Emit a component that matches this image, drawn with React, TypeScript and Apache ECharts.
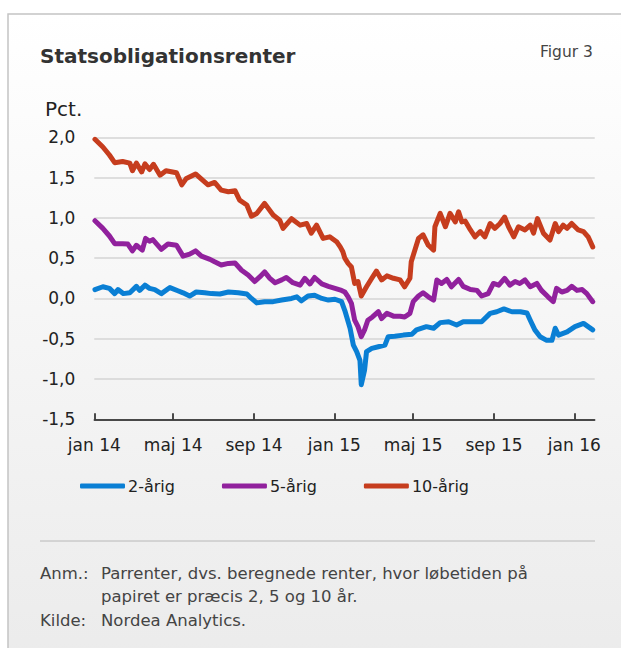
import React, { useEffect, useRef } from "react";
import * as echarts from "echarts";

const seriesNames = ["2-årig", "5-årig", "10-årig"];
const seriesColors = ["#0a7fd4", "#91219d", "#c63d1e"];

const tickDates = ["2014-01-01", "2014-05-01", "2014-09-01", "2015-01-01", "2015-05-01", "2015-09-01", "2016-01-01"];
const monthNames = ["jan", "feb", "mar", "apr", "maj", "jun", "jul", "aug", "sep", "okt", "nov", "dec"];

const dates2 = [
  "2014-01-02", "2014-01-14", "2014-01-24", "2014-02-01", "2014-02-06", "2014-02-14", "2014-02-24", "2014-03-06",
  "2014-03-11", "2014-03-19", "2014-03-26", "2014-04-03", "2014-04-13", "2014-04-26", "2014-05-08", "2014-05-16",
  "2014-05-26", "2014-06-05", "2014-06-18", "2014-06-28", "2014-07-11", "2014-07-24", "2014-08-08", "2014-08-21",
  "2014-08-28", "2014-09-05", "2014-09-17", "2014-09-30", "2014-10-13", "2014-10-28", "2014-11-05", "2014-11-12",
  "2014-11-22", "2014-12-02", "2014-12-13", "2014-12-23", "2015-01-02", "2015-01-12", "2015-01-17", "2015-01-25",
  "2015-01-30", "2015-02-04", "2015-02-09", "2015-02-11", "2015-02-16", "2015-02-19", "2015-02-27", "2015-03-09",
  "2015-03-19", "2015-03-24", "2015-04-03", "2015-04-16", "2015-04-29", "2015-05-06", "2015-05-21", "2015-06-01",
  "2015-06-11", "2015-06-24", "2015-07-06", "2015-07-16", "2015-08-01", "2015-08-13", "2015-08-26", "2015-09-05",
  "2015-09-16", "2015-09-28", "2015-10-11", "2015-10-21", "2015-10-26", "2015-11-02", "2015-11-10", "2015-11-20",
  "2015-11-28", "2015-12-03", "2015-12-08", "2015-12-21", "2016-01-02", "2016-01-15", "2016-01-22", "2016-01-29",
];
const values2 = [
  0.11, 0.145, 0.125, 0.06, 0.11, 0.06, 0.07, 0.15,
  0.10, 0.165, 0.125, 0.11, 0.06, 0.135, 0.095, 0.07,
  0.03, 0.08, 0.07, 0.06, 0.055, 0.08, 0.07, 0.055,
  0.0, -0.055, -0.04, -0.04, -0.02, 0.0, 0.02, -0.03,
  0.03, 0.04, 0.0, -0.02, -0.01, -0.04, -0.15, -0.37,
  -0.58, -0.66, -0.77, -1.07, -0.89, -0.66, -0.62, -0.60,
  -0.58, -0.475, -0.47, -0.455, -0.445, -0.39, -0.35, -0.37,
  -0.30, -0.29, -0.33, -0.29, -0.29, -0.29, -0.185, -0.165,
  -0.13, -0.165, -0.165, -0.18, -0.27, -0.39, -0.475, -0.52,
  -0.52, -0.37, -0.455, -0.415, -0.35, -0.31, -0.35, -0.39,
];

const dates5 = [
  "2014-01-02", "2014-01-14", "2014-01-24", "2014-02-01", "2014-02-13", "2014-02-21", "2014-02-28", "2014-03-06",
  "2014-03-15", "2014-03-20", "2014-03-26", "2014-03-31", "2014-04-13", "2014-04-23", "2014-05-06", "2014-05-16",
  "2014-05-26", "2014-06-04", "2014-06-13", "2014-06-26", "2014-07-03", "2014-07-13", "2014-07-24", "2014-08-03",
  "2014-08-13", "2014-08-23", "2014-09-02", "2014-09-10", "2014-09-17", "2014-09-25", "2014-10-03", "2014-10-13",
  "2014-10-20", "2014-10-30", "2014-11-10", "2014-11-17", "2014-11-25", "2014-12-02", "2014-12-13", "2014-12-23",
  "2015-01-02", "2015-01-12", "2015-01-17", "2015-01-22", "2015-01-27", "2015-02-01", "2015-02-06", "2015-02-11",
  "2015-02-16", "2015-02-21", "2015-02-28", "2015-03-09", "2015-03-14", "2015-03-22", "2015-04-01", "2015-04-11",
  "2015-04-18", "2015-04-26", "2015-05-01", "2015-05-09", "2015-05-16", "2015-05-24", "2015-06-01", "2015-06-06",
  "2015-06-13", "2015-06-21", "2015-06-28", "2015-07-09", "2015-07-16", "2015-07-27", "2015-08-06", "2015-08-13",
  "2015-08-23", "2015-08-31", "2015-09-08", "2015-09-17", "2015-09-25", "2015-10-03", "2015-10-10", "2015-10-18",
  "2015-10-26", "2015-11-05", "2015-11-12", "2015-11-22", "2015-11-30", "2015-12-05", "2015-12-13", "2015-12-21",
  "2015-12-28", "2016-01-05", "2016-01-13", "2016-01-20", "2016-01-29",
];
const values5 = [
  0.965, 0.87, 0.775, 0.68, 0.68, 0.675, 0.59, 0.66,
  0.60, 0.745, 0.71, 0.73, 0.61, 0.675, 0.66, 0.525,
  0.55, 0.59, 0.525, 0.485, 0.455, 0.415, 0.435, 0.44,
  0.35, 0.29, 0.21, 0.27, 0.33, 0.25, 0.195, 0.23,
  0.26, 0.195, 0.165, 0.25, 0.18, 0.26, 0.18, 0.15,
  0.125, 0.10, 0.08, 0.02, -0.06, -0.27, -0.35, -0.475,
  -0.39, -0.27, -0.23, -0.165, -0.25, -0.185, -0.22, -0.22,
  -0.23, -0.185, -0.04, 0.03, 0.07, 0.02, -0.02, 0.23,
  0.186, 0.236, 0.145, 0.236, 0.15, 0.11, 0.10, 0.03,
  0.06, 0.186, 0.165, 0.25, 0.165, 0.21, 0.186, 0.23,
  0.145, 0.186, 0.10, 0.02, -0.04, 0.125, 0.08, 0.10,
  0.15, 0.10, 0.11, 0.06, -0.04,
];

const dates10 = [
  "2014-01-02", "2014-01-14", "2014-01-24", "2014-02-01", "2014-02-13", "2014-02-24", "2014-02-28", "2014-03-06",
  "2014-03-14", "2014-03-19", "2014-03-26", "2014-04-01", "2014-04-11", "2014-04-20", "2014-05-06", "2014-05-14",
  "2014-05-21", "2014-06-04", "2014-06-13", "2014-06-23", "2014-07-03", "2014-07-13", "2014-07-24", "2014-08-03",
  "2014-08-10", "2014-08-21", "2014-08-28", "2014-09-05", "2014-09-17", "2014-09-30", "2014-10-10", "2014-10-15",
  "2014-10-28", "2014-11-10", "2014-11-20", "2014-11-27", "2014-12-05", "2014-12-15", "2014-12-25", "2015-01-05",
  "2015-01-10", "2015-01-14", "2015-01-17", "2015-01-22", "2015-01-27", "2015-02-01", "2015-02-06", "2015-02-11",
  "2015-02-19", "2015-02-27", "2015-03-06", "2015-03-14", "2015-03-22", "2015-04-01", "2015-04-11", "2015-04-18",
  "2015-04-26", "2015-04-28", "2015-05-09", "2015-05-16", "2015-05-24", "2015-06-01", "2015-06-03", "2015-06-11",
  "2015-06-19", "2015-06-26", "2015-07-04", "2015-07-09", "2015-07-14", "2015-07-19", "2015-07-27", "2015-08-03",
  "2015-08-11", "2015-08-18", "2015-08-26", "2015-09-02", "2015-09-10", "2015-09-17", "2015-09-23", "2015-10-01",
  "2015-10-08", "2015-10-18", "2015-10-26", "2015-10-31", "2015-11-06", "2015-11-15", "2015-11-25", "2015-12-03",
  "2015-12-08", "2015-12-15", "2015-12-21", "2015-12-28", "2016-01-07", "2016-01-15", "2016-01-22", "2016-01-29",
];
const values10 = [
  1.975, 1.88, 1.78, 1.685, 1.70, 1.68, 1.585, 1.68,
  1.57, 1.67, 1.60, 1.665, 1.53, 1.585, 1.56, 1.41,
  1.49, 1.545, 1.48, 1.41, 1.44, 1.345, 1.325, 1.337,
  1.22, 1.16, 1.02, 1.055, 1.18, 1.035, 0.97, 0.87,
  0.99, 0.91, 0.93, 0.81, 0.91, 0.745, 0.765, 0.70,
  0.64, 0.58, 0.50, 0.435, 0.39, 0.186, 0.21, 0.03,
  0.145, 0.25, 0.34, 0.23, 0.28, 0.25, 0.23, 0.145,
  0.25, 0.455, 0.745, 0.79, 0.66, 0.60, 0.89, 1.055,
  0.89, 1.055, 0.95, 1.075, 0.95, 0.96, 0.85, 0.765,
  0.83, 0.765, 0.93, 0.87, 0.93, 1.01, 0.89, 0.765,
  0.89, 0.85, 0.91, 0.81, 0.99, 0.81, 0.725, 0.93,
  0.83, 0.91, 0.87, 0.93, 0.85, 0.83, 0.765, 0.64,
];

const yTicks = { min: -1.5, max: 2.0, interval: 0.5 };
const FONT = "'DejaVu Sans', sans-serif";

function toTime(s: string) {
  const [y, m, d] = s.split("-").map(Number);
  return Date.UTC(y, m - 1, d);
}
function pairs(dates: string[], values: number[]) {
  return dates.map((d, i) => [toTime(d), values[i]]);
}

function label(text: string, x: number, y: number, font: string, fill: string) {
  return { type: "text", x, y, silent: true, style: { text, font, fill, verticalAlign: "middle", align: "left" } };
}

export default function App() {
  const ref = useRef<HTMLDivElement>(null);
  useEffect(() => {
    if (!ref.current) return;
    const chart = echarts.init(ref.current, null, { renderer: "svg" });
    const ticks = tickDates.map(toTime);
    const allData = [pairs(dates2, values2), pairs(dates5, values5), pairs(dates10, values10)];
    const foot = `16.5px ${FONT}`;
    chart.setOption({
      animation: false,
      backgroundColor: "#ffffff",
      graphic: [
        {
          type: "rect",
          silent: true,
          z: -10,
          shape: { x: 8, y: 14, width: 640, height: 660 },
          style: {
            fill: new echarts.graphic.LinearGradient(0, 0, 0, 1, [
              { offset: 0, color: "#ffffff" },
              { offset: 1, color: "#ebebeb" },
            ]),
            stroke: "#c4c4c4",
            lineWidth: 1.5,
          },
        },
        label("Statsobligationsrenter", 40, 56, `bold 20px ${FONT}`, "#333333"),
        label("Figur 3", 540, 52, `15.5px ${FONT}`, "#444444"),
        label("Pct.", 45, 109, `20px ${FONT}`, "#222222"),
        {
          type: "line",
          silent: true,
          shape: { x1: 40, y1: 541, x2: 595, y2: 541 },
          style: { stroke: "#b8b8b8", lineWidth: 1 },
        },
        label("Anm.:", 40, 573, foot, "#444444"),
        label("Parrenter, dvs. beregnede renter, hvor løbetiden på", 101, 573, foot, "#444444"),
        label("papiret er præcis 2, 5 og 10 år.", 101, 596, foot, "#444444"),
        label("Kilde:", 40, 620, foot, "#444444"),
        label("Nordea Analytics.", 101, 620, foot, "#444444"),
      ],
      legend: {
        left: 80,
        top: 478,
        padding: 0,
        itemWidth: 45,
        itemHeight: 5,
        itemGap: 47,
        icon: "roundRect",
        textStyle: { fontFamily: FONT, fontSize: 16, color: "#222222", padding: [0, 0, 0, -2] },
        data: seriesNames,
      },
      grid: { left: 94.3, right: 26.3, top: 137.3, bottom: 228.7, containLabel: false },
      xAxis: {
        type: "value",
        min: toTime("2014-01-01"),
        max: toTime("2016-02-01"),
        axisLine: { onZero: false, lineStyle: { color: "#111111", width: 1.5 } },
        axisTick: { show: true, inside: true, length: 6, customValues: ticks, lineStyle: { color: "#111111", width: 1.5 } },
        axisLabel: {
          customValues: ticks,
          margin: 17,
          fontFamily: FONT,
          fontSize: 17,
          color: "#222222",
          formatter: (v: number) => {
            const d = new Date(v);
            return monthNames[d.getUTCMonth()] + " " + String(d.getUTCFullYear()).slice(2);
          },
        },
        splitLine: { show: false },
      },
      yAxis: {
        type: "value",
        min: yTicks.min,
        max: yTicks.max,
        interval: yTicks.interval,
        axisLine: { show: false },
        axisTick: { show: false },
        axisLabel: {
          margin: 19,
          fontFamily: FONT,
          fontSize: 17,
          color: "#222222",
          formatter: (v: number) => v.toFixed(1).replace(".", ","),
        },
        splitLine: {
          lineStyle: { color: "#d4d4d4", width: 1.5 },
          showMinLine: false,
        },
      },
      series: seriesNames.map((name, i) => ({
        name,
        type: "line",
        data: allData[i],
        showSymbol: false,
        symbol: "none",
        color: seriesColors[i],
        lineStyle: { width: 5, color: seriesColors[i], join: "round", cap: "round" },
      })),
    });
    return () => chart.dispose();
  }, []);
  return (
    <div
      ref={ref}
      style={{ position: "fixed", left: 0, top: 0, width: 621, height: 648 }}
    />
  );
}
